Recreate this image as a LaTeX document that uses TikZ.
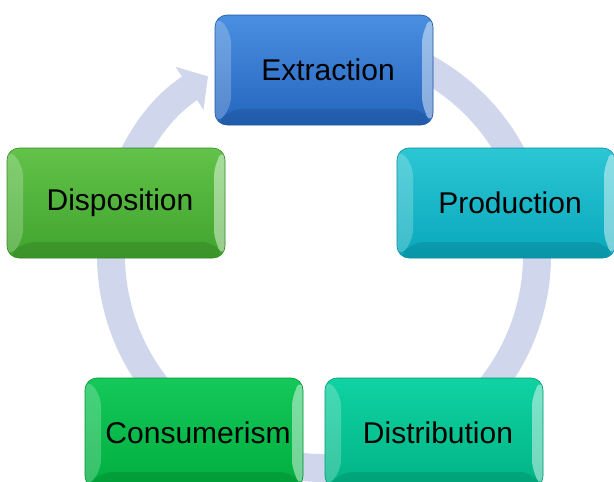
\documentclass[tikz,border=0pt]{standalone}
\usepackage{fontspec}
\setmainfont{Liberation Sans}
\usetikzlibrary{arrows.meta}

\definecolor{ringgrey}{HTML}{D0D6EC}
\definecolor{extrtop}{HTML}{4A8FE0}
\definecolor{extrbot}{HTML}{2465BE}
\definecolor{prodtop}{HTML}{2CC6D4}
\definecolor{prodbot}{HTML}{08A8BC}
\definecolor{disttop}{HTML}{10D2A2}
\definecolor{distbot}{HTML}{00B486}
\definecolor{constop}{HTML}{14C85A}
\definecolor{consbot}{HTML}{00AE3E}
\definecolor{disptop}{HTML}{62C24A}
\definecolor{dispbot}{HTML}{40A42C}

\tikzset{
  box/.style 2 args={rounded corners=12pt, minimum width=218pt, minimum height=110pt,
    top color=#1, bottom color=#2, draw=#2!85!black, line width=0.6pt,
    font=\fontsize{30}{35}\selectfont, text=black,
    execute at begin node=\hspace*{8pt},
    path picture={
      \fill[white, opacity=.22] (path picture bounding box.north west)
        -- ([shift={(16pt,-16pt)}]path picture bounding box.north west)
        -- ([shift={(16pt,16pt)}]path picture bounding box.south west)
        -- (path picture bounding box.south west) -- cycle;
      \fill[white, opacity=.45] (path picture bounding box.north east)
        -- ([shift={(-11pt,-16pt)}]path picture bounding box.north east)
        -- ([shift={(-11pt,16pt)}]path picture bounding box.south east)
        -- (path picture bounding box.south east) -- cycle;
      \fill[black, opacity=.10] (path picture bounding box.south west)
        -- ([shift={(16pt,16pt)}]path picture bounding box.south west)
        -- ([shift={(-11pt,16pt)}]path picture bounding box.south east)
        -- (path picture bounding box.south east) -- cycle;
    }},
  ring/.style={draw=ringgrey, line width=28pt,
    -{Triangle[length=22pt, width=50pt, fill=ringgrey]}}
}

\begin{document}
\begin{tikzpicture}[x=1pt,y=-1pt]
\useasboundingbox (0,0) rectangle (614,482);
\coordinate (hub) at (324,255);
\draw [ring] (hub) ++(-100:213) arc [start angle=-100, end angle=237, radius=213];
\node [box={extrtop}{extrbot}] (extraction) at (324,70) {Extraction};
\node [box={prodtop}{prodbot}] (production) at (506,203) {Production};
\node [box={disttop}{distbot}] (distribution) at (434,433) {Distribution};
\node [box={constop}{consbot}] (consumerism) at (194,433) {Consumerism};
\node [box={disptop}{dispbot}] (disposition) at (116,203) {Disposition};
\end{tikzpicture}
\end{document}
